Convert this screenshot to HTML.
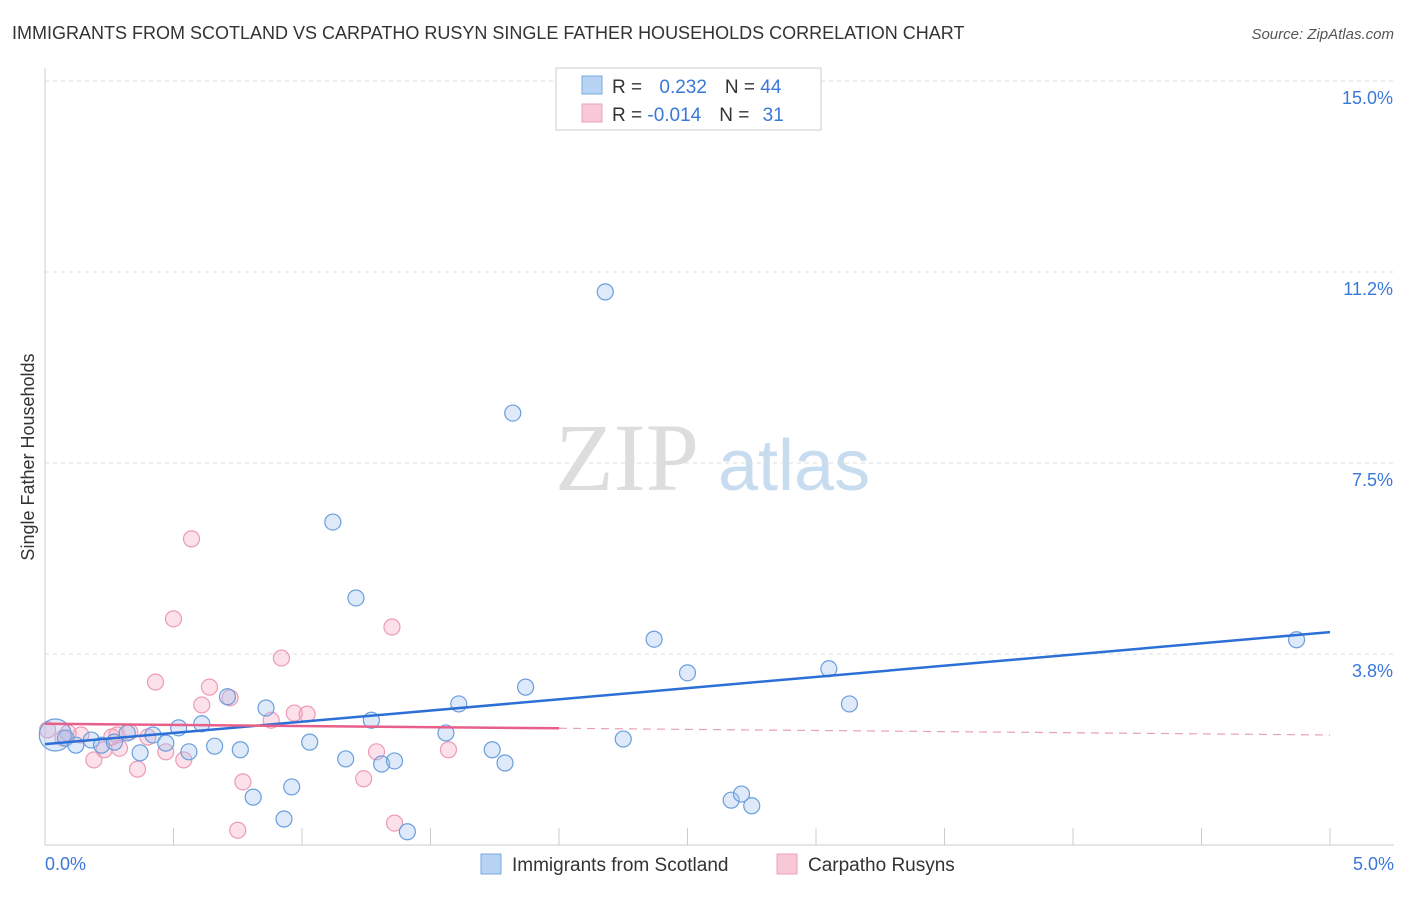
<!DOCTYPE html>
<html><head><meta charset="utf-8"><style>
body{margin:0;background:#fff;font-family:"Liberation Sans",sans-serif;}
</style></head><body>
<svg id="c" width="1406" height="892" xmlns="http://www.w3.org/2000/svg">
<text x="12" y="39" font-size="18" fill="#333">IMMIGRANTS FROM SCOTLAND VS CARPATHO RUSYN SINGLE FATHER HOUSEHOLDS CORRELATION CHART</text>
<text x="1394" y="39" font-size="15" fill="#555" font-style="italic" text-anchor="end">Source: ZipAtlas.com</text>
<text x="555" y="490" font-size="96" fill="#ddd" font-family="Liberation Serif">ZIP</text>
<text x="718" y="490" font-size="72" fill="#c8dcf0">atlas</text>
<text transform="translate(34,457) rotate(-90)" font-size="18" fill="#333" text-anchor="middle">Single Father Households</text>
<g id="grid"></g><g id="marks"></g>
<g>
<rect x="556" y="68" width="265" height="62" fill="#fff" stroke="#ccc"/>
<rect x="582" y="76" width="20" height="18" fill="#b8d4f4" stroke="#7aa8e0"/>
<rect x="582" y="104" width="20" height="18" fill="#f9c8d6" stroke="#eea0b8"/>
<text x="612" y="93" font-size="19" fill="#333">R = <tspan fill="#3a78d8" dx="12">0.232</tspan><tspan dx="18" fill="#333">N = </tspan><tspan fill="#3a78d8">44</tspan></text>
<text x="612" y="121" font-size="19" fill="#333">R = <tspan fill="#3a78d8">-0.014</tspan><tspan dx="18" fill="#333">N = </tspan><tspan fill="#3a78d8" dx="8">31</tspan></text>
</g>
<g>
<rect x="481" y="854" width="20" height="20" fill="#b8d4f4" stroke="#7aa8e0"/>
<text x="512" y="871" font-size="19" fill="#333">Immigrants from Scotland</text>
<rect x="777" y="854" width="20" height="20" fill="#f9c8d6" stroke="#eea0b8"/>
<text x="808" y="871" font-size="19" fill="#333">Carpatho Rusyns</text>
</g>
</svg>
<script>
const yTicks=[3.8,7.5,11.2,15.0];
const yTickVals=[3.75,7.5,11.25,15];
const xTickLabels=["0.0%","5.0%"];
const blueX=[0.04,0.08,0.12,0.18,0.22,0.27,0.32,0.37,0.42,0.47,0.52,0.56,0.61,0.66,0.71,0.76,0.81,0.86,0.93,0.96,1.03,1.12,1.17,1.21,1.27,1.31,1.36,1.41,1.56,1.61,1.74,1.79,1.82,1.87,2.18,2.25,2.37,2.50,2.67,2.71,2.75,3.05,3.13,4.87];
const blueY=[2.16,2.10,1.96,2.06,1.96,2.02,2.20,1.81,2.16,2.00,2.30,1.83,2.38,1.94,2.91,1.87,0.94,2.69,0.51,1.14,2.02,6.34,1.69,4.85,2.45,1.59,1.65,0.26,2.20,2.77,1.87,1.61,8.48,3.10,10.86,2.08,4.04,3.38,0.88,1.00,0.77,3.46,2.77,4.03];
const pinkX=[0.01,0.07,0.14,0.19,0.23,0.26,0.29,0.33,0.36,0.40,0.43,0.47,0.50,0.54,0.57,0.61,0.64,0.72,0.75,0.77,0.88,0.92,0.97,1.02,1.24,1.29,1.35,1.36,1.57,0.09,0.28];
const pinkY=[2.26,2.10,2.16,1.67,1.87,2.12,1.90,2.22,1.49,2.12,3.20,1.83,4.44,1.67,6.01,2.75,3.10,2.89,0.29,1.24,2.45,3.67,2.59,2.57,1.30,1.83,4.28,0.43,1.87,2.20,2.16];
const blueTrend=[1.98,4.18];
const pinkTrend=[2.38,2.16];
const X=v=>45+v/5*1285, Y=v=>845-v/3.75*191;
const NS="http://www.w3.org/2000/svg";
function mk(t,a,p){const e=document.createElementNS(NS,t);for(const k in a)e.setAttribute(k,a[k]);p.appendChild(e);return e;}
const g=document.getElementById('grid'),m=document.getElementById('marks');
yTickVals.forEach((v,i)=>{const l=mk('line',{x1:45,x2:1394,y1:Y(v),y2:Y(v),stroke:'#ddd','stroke-dasharray':'4,4'},g);

const t=mk('text',{x:1393,y:Y(v)+23,'font-size':18,fill:'#3a78d8','text-anchor':'end'},g);t.textContent=yTicks[i].toFixed(1)+'%';
});
mk('line',{x1:45,x2:1394,y1:Y(15),y2:Y(15),stroke:'#ddd','stroke-dasharray':'4,4'},g);
const ax=mk('line',{x1:45,x2:1394,y1:845,y2:845,stroke:'#ccc'},g);
const ay=mk('line',{x1:45,x2:45,y1:68,y2:845,stroke:'#ccc'},g);
for(let i=0;i<=10;i++){const t=mk('line',{x1:X(i*0.5),x2:X(i*0.5),y1:828,y2:845,stroke:'#ccc'},g);}
[[0,'start',45],[5,'end',1394]].forEach((d,i)=>{const t=mk('text',{x:d[2],y:870,'font-size':18,fill:'#3a78d8','text-anchor':d[1]},g);t.textContent=xTickLabels[i];});
pinkX.forEach((x,i)=>{const c=mk('circle',{cx:X(x),cy:Y(pinkY[i]),r:8,fill:'rgba(246,170,195,0.35)',stroke:'#ee9ab5','stroke-width':1.2},m);});
blueX.forEach((x,i)=>{const c=mk('circle',{cx:X(x),cy:Y(blueY[i]),r:i==0?16:8,fill:'rgba(160,196,240,0.35)',stroke:'#6a9edc','stroke-width':1.2},m);});
const bl=mk('line',{x1:X(0),y1:Y(blueTrend[0]),x2:X(5),y2:Y(blueTrend[1]),stroke:'#2c6fd6','stroke-width':2.5},m);
const pm=v=>pinkTrend[0]+(pinkTrend[1]-pinkTrend[0])*v/5;
const pl=mk('line',{x1:X(0),y1:Y(pm(0)),x2:X(2),y2:Y(pm(2)),stroke:'#e8608a','stroke-width':2.5},m);
const pd=mk('line',{x1:X(2),y1:Y(pm(2)),x2:X(5),y2:Y(pm(5)),stroke:'#e8a0b8','stroke-width':1.2,'stroke-dasharray':'8,6'},m);
</script>
</body></html>
